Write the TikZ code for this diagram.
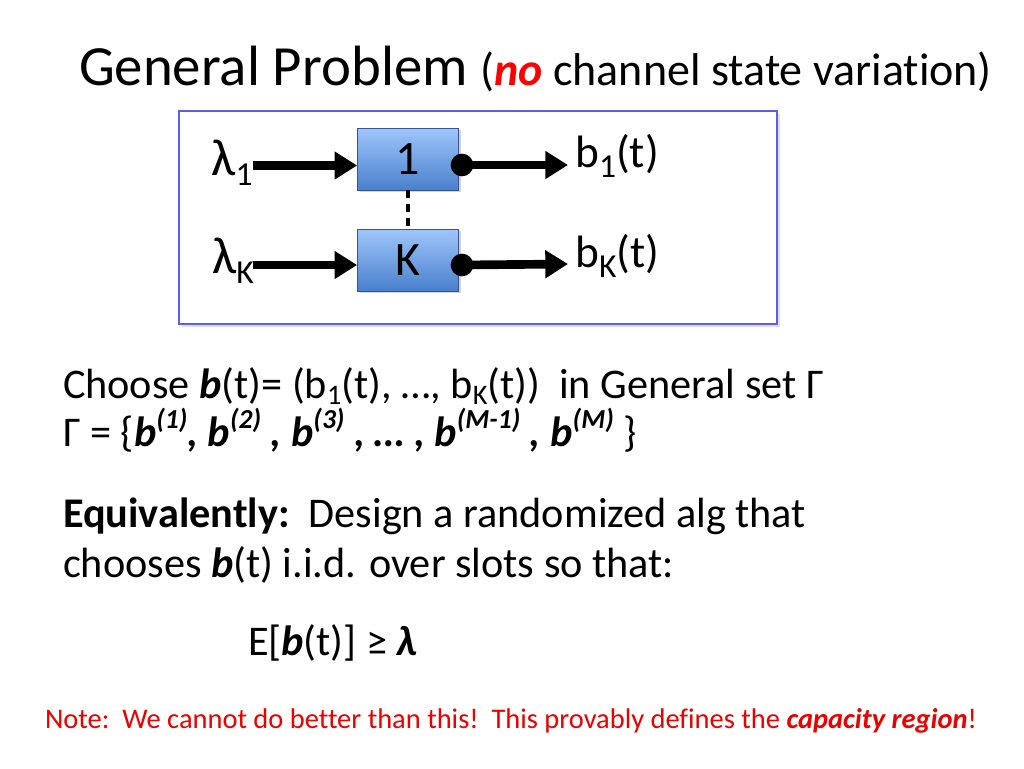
\documentclass[tikz,border=0pt]{standalone}
\usepackage{fontspec}
\setmainfont[Ligatures=NoCommon]{Carlito}
\usetikzlibrary{arrows.meta,shadows}
\definecolor{frameblue}{RGB}{95,95,225}
\definecolor{boxtop}{RGB}{160,198,252}
\definecolor{boxbot}{RGB}{72,128,204}
\definecolor{boxedge}{RGB}{55,85,140}
\definecolor{notered}{RGB}{235,0,0}
\newcommand\sbs[1]{\raisebox{-0.16em}{\scalebox{0.67}{#1}}}
\newcommand\dsb[1]{\raisebox{-0.24em}{\scalebox{0.74}{#1}}}
\newcommand\sps[1]{\raisebox{0.42em}{\scalebox{0.65}{#1}}}
\newcommand\bi[1]{\textbf{\textit{#1}}}
\newcommand\biglam{{\fontsize{39}{44}\selectfont λ}}
\begin{document}
\begin{tikzpicture}[x=0.75pt,y=-0.75pt,
  txt/.style={anchor=base west,inner sep=0pt,outer sep=0pt},
  body/.style={txt,font=\fontsize{31.7}{38}\selectfont},
  dlabel/.style={inner sep=0pt,font=\fontsize{34}{40}\selectfont},
  chan/.style={draw=boxedge,line width=0.5pt,top color=boxtop,bottom color=boxbot,
    minimum width=75.75pt,minimum height=46.5pt,inner sep=0pt,
    font=\fontsize{36}{40}\selectfont,
    drop shadow={opacity=0.35,shadow xshift=1.5pt,shadow yshift=-1.5pt}},
  dot/.style={circle,fill=black,minimum size=17pt,inner sep=0pt},
  flow/.style={line width=6.5pt,-{Triangle[length=17pt,width=20pt]}},
  link/.style={line width=2.4pt,dash pattern=on 6pt off 4.5pt}
]
\useasboundingbox (0,0) rectangle (1024,768);
\fill[white] (0,0) rectangle (1024,768);

% title
\node[txt,font=\fontsize{42.6}{48}\selectfont] (title) at (79,85)
  {General Problem {\fontsize{34.5}{40}\selectfont(\textcolor{red}{\bi{no}} channel state variation)}};

% frame
\node[draw=frameblue,line width=0.8pt,fill=white,minimum width=448.5pt,minimum height=159.75pt,
  drop shadow={opacity=0.25,shadow xshift=2pt,shadow yshift=-2pt}] (frame) at (478,217.5) {};

% channel boxes
\node[chan] (c1) at (408,159) {\raisebox{-2pt}{1}};
\node[chan] (cK) at (408,260) {\raisebox{-2pt}{K}};
\draw[link] (c1.south) -- (cK.north);

% input labels
\node[dlabel,anchor=base east] (l1) at (253,175) {\biglam\dsb{1}};
\node[dlabel,anchor=base east] (lK) at (254,273) {\biglam\dsb{K}};
\coordinate (i1) at (253,165.5);
\coordinate (iK) at (253,265);
\draw[flow] (i1) -- (c1.west |- i1);
\draw[flow] (iK) -- (cK.west |- iK);

% output dots and arrows
\node[dot] (d1) at (462,165) {};
\node[dot] (dK) at (462,265) {};
\coordinate (o1) at (568,165);
\coordinate (oK) at (568,264);
\draw[flow] (d1.center) -- (o1);
\draw[flow] (dK.center) -- (oK);
\node[dlabel,anchor=base west] (b1) at (575,167) {b\dsb{1}(t)};
\node[dlabel,anchor=base west] (bK) at (575,267) {b\dsb{K}(t)};

% body text
\node[body] (choose) at (63,398)
  {Choose \bi{b}(t)= (b\sbs{1}(t), …, b\sbs{K}(t))\ \ in General set Γ};
\node[body] (gamma) at (63,446)
  {Γ = \{\bi{b\sps{(1)}, b\sps{(2)} , b\sps{(3)} , … , b\sps{(M-1)} , b\sps{(M)}} \}};
\node[body] (equiv) at (63,527)
  {\textbf{Equivalently:}\ \ Design a randomized alg that};
\node[body] (chooses) at (63,577)
  {chooses \bi{b}(t) i.i.d. over slots so that:};
\node[body] (expect) at (248,655)
  {E[\bi{b}(t)] ≥ \bi{λ}};

% note
\node[txt,font=\fontsize{21.35}{26}\selectfont,text=notered] (note) at (45,728)
  {Note:\ \ We cannot do better than this!\ \ This provably defines the \bi{capacity region}!};
\end{tikzpicture}
\end{document}
